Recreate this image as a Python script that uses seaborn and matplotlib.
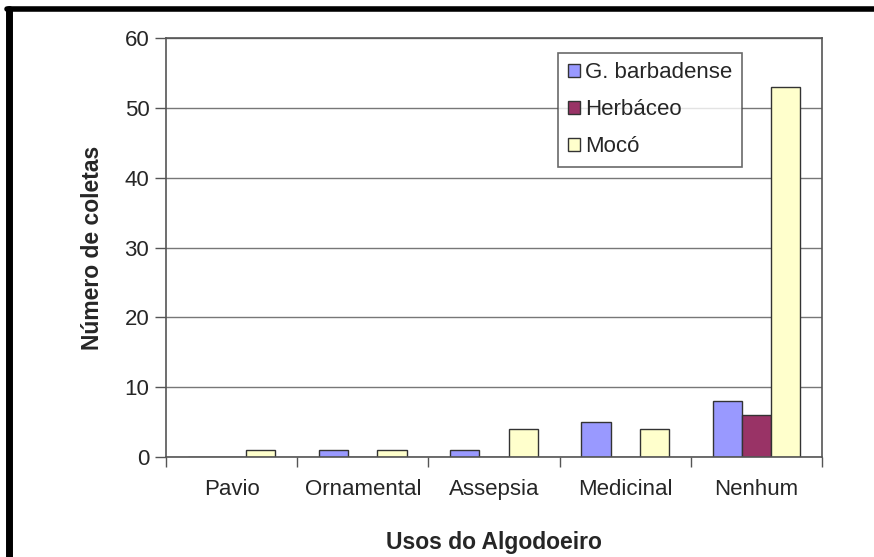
import pandas as pd
import numpy as np
import matplotlib
matplotlib.use("Agg")
import matplotlib.pyplot as plt
import seaborn as sns
from matplotlib.patches import Rectangle
from matplotlib.lines import Line2D

# data
usos = ["Pavio", "Ornamental", "Assepsia", "Medicinal", "Nenhum"]
especies = ["G. barbadense", "Herbáceo", "Mocó"]
barbadense = [0, 1, 1, 5, 8]
herbaceo = [0, 0, 0, 0, 6]
moco = [1, 1, 4, 4, 53]
cores = ["#9999FF", "#993366", "#FFFFCC"]
y_ticks = [0, 10, 20, 30, 40, 50, 60]

df = pd.DataFrame({
    "uso": usos * 3,
    "especie": [especies[0]] * 5 + [especies[1]] * 5 + [especies[2]] * 5,
    "coletas": barbadense + herbaceo + moco,
})

sns.set_theme(style="white")
plt.rcParams["font.family"] = ["Liberation Sans", "DejaVu Sans"]

fig = plt.figure(figsize=(8.74, 5.57), dpi=100)
ax = fig.add_axes([166 / 874, 1 - 457 / 557, 656 / 874, 419 / 557])

sns.barplot(data=df, x="uso", y="coletas", hue="especie", order=usos,
            hue_order=especies, palette=cores, width=0.667,
            edgecolor="#333333", linewidth=1.0, saturation=1, ax=ax)

ax.set_ylim(0, 60)
ax.set_xlim(-0.5, 4.5)
ax.set_yticks(y_ticks)
ax.yaxis.grid(True, color="#777777", linewidth=1)
ax.set_axisbelow(True)
for s in ax.spines.values():
    s.set_color("#555555")
    s.set_linewidth(1.2)

ax.tick_params(axis="y", which="major", direction="out", length=8, width=1,
               color="#555555", labelsize=16, pad=4, left=True)
ax.set_xticks(range(len(usos)))
ax.set_xticklabels(usos, fontsize=16)
ax.tick_params(axis="x", which="major", length=0, pad=16)
ax.set_xticks(np.arange(-0.5, 5, 1), minor=True)
ax.tick_params(axis="x", which="minor", direction="out", length=7, width=1,
               color="#555555", bottom=True)

ax.set_ylabel("Número de coletas", fontsize=16.5, fontweight="bold", labelpad=15)
ax.set_xlabel("Usos do Algodoeiro", fontsize=16.5, fontweight="bold", labelpad=22)

handles = [Rectangle((0, 0), 1, 1, facecolor=c, edgecolor="#333333", linewidth=1)
           for c in cores]
leg = ax.legend(handles, especies, loc="upper left", bbox_to_anchor=(0.598, 0.964),
                fontsize=16, frameon=True, fancybox=False, handlelength=0.55,
                handleheight=0.55, handletextpad=0.25, labelspacing=0.72,
                borderpad=0.42, borderaxespad=0)
leg.get_frame().set_edgecolor("#444444")
leg.get_frame().set_linewidth(1.2)

# thick outer frame (left and top edges visible)
fig.add_artist(Line2D([9 / 874, 9 / 874], [0, 1 - 9 / 557], transform=fig.transFigure,
                      color="black", linewidth=5))
fig.add_artist(Line2D([7 / 874, 1], [1 - 9 / 557, 1 - 9 / 557], transform=fig.transFigure,
                      color="black", linewidth=4))

fig.savefig("out.png", dpi=100)
